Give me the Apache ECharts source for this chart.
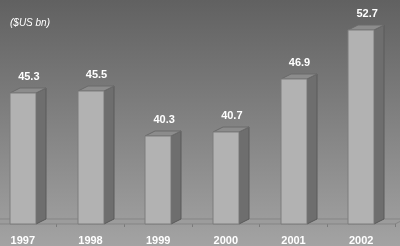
<!DOCTYPE html>
<html>
<head>
<meta charset="utf-8">
<script src="https://cdn.jsdelivr.net/npm/echarts@6/dist/echarts.min.js"></script>
<style>
  html, body { margin: 0; padding: 0; }
  #chart { width: 400px; height: 246px; }
</style>
</head>
<body>
<div id="chart"></div>
<script>
const years = ['1997', '1998', '1999', '2000', '2001', '2002']
const values = [45.3, 45.5, 40.3, 40.7, 46.9, 52.7]
const unitLabel = '($US bn)'

const AXIS_MIN = 30
const AXIS_MAX = 55
const BAR_W = 26
const DX = 10
const DY = 5

const chart = echarts.init(document.getElementById('chart'))

function renderBar(params, api) {
  const top = api.coord([api.value(0), api.value(1)])
  const base = api.coord([api.value(0), AXIS_MIN])
  const x0 = Math.round(top[0] - BAR_W / 2)
  const x1 = x0 + BAR_W
  const ty = Math.round(top[1])
  const by = Math.round(base[1])
  return {
    type: 'group',
    children: [
      {
        type: 'polygon',
        shape: { points: [[x1, ty], [x1 + DX, ty - DY], [x1 + DX, by - DY], [x1, by]] },
        style: { fill: '#6e6e6e', stroke: '#5a5a5a', lineWidth: 1 }
      },
      {
        type: 'polygon',
        shape: { points: [[x0, ty], [x0 + DX, ty - DY], [x1 + DX, ty - DY], [x1, ty]] },
        style: { fill: '#8c8c8c', stroke: '#6a6a6a', lineWidth: 1 }
      },
      {
        type: 'rect',
        shape: { x: x0, y: ty, width: BAR_W, height: by - ty },
        style: { fill: '#b2b2b2', stroke: '#7c7c7c', lineWidth: 1 }
      },
      {
        type: 'text',
        style: {
          x: top[0] + 6,
          y: ty - 16,
          text: api.value(1).toFixed(1),
          fill: '#ffffff',
          font: 'bold 11px "Liberation Sans", Arial, sans-serif',
          align: 'center',
          verticalAlign: 'middle'
        }
      }
    ]
  }
}

function renderFloor(params, api) {
  const cs = params.coordSys
  const by = Math.round(api.coord([0, AXIS_MIN])[1])
  const xl = cs.x
  const xr = cs.x + cs.width
  return {
    type: 'group',
    children: [
      {
        type: 'polygon',
        shape: { points: [[xl, by], [xl + DX, by - DY], [xr + DX, by - DY], [xr, by]] },
        style: { fill: '#9c9c9c', stroke: '#858585', lineWidth: 1 }
      }
    ]
  }
}

const option = {
  backgroundColor: new echarts.graphic.LinearGradient(0, 0, 0, 1, [
    { offset: 0, color: '#616161' },
    { offset: 1, color: '#a3a3a3' }
  ]),
  animation: false,
  title: {
    text: unitLabel,
    left: 5,
    top: 13,
    textStyle: {
      color: '#ffffff',
      fontSize: 10,
      fontStyle: 'italic',
      fontWeight: 'normal',
      fontFamily: '"Liberation Sans", Arial, sans-serif'
    }
  },
  grid: { left: -11, right: 5, top: 10, bottom: 22, outerBoundsMode: 'none', containLabel: false },
  xAxis: {
    type: 'category',
    data: years,
    axisLine: { show: false },
    axisTick: { show: true, length: 3, lineStyle: { color: '#7a7a7a' } },
    axisLabel: {
      color: '#ffffff',
      fontSize: 11,
      fontWeight: 'bold',
      fontFamily: '"Liberation Sans", Arial, sans-serif',
      margin: 11
    }
  },
  yAxis: {
    type: 'value',
    min: AXIS_MIN,
    max: AXIS_MAX,
    show: false,
    splitLine: { show: false }
  },
  series: [
    {
      type: 'custom',
      renderItem: renderFloor,
      data: [[0, AXIS_MIN]],
      z: 1,
      silent: true
    },
    {
      type: 'custom',
      renderItem: renderBar,
      data: years.map((y, i) => [i, values[i]]),
      z: 2
    }
  ]
}

chart.setOption(option)
</script>
</body>
</html>
